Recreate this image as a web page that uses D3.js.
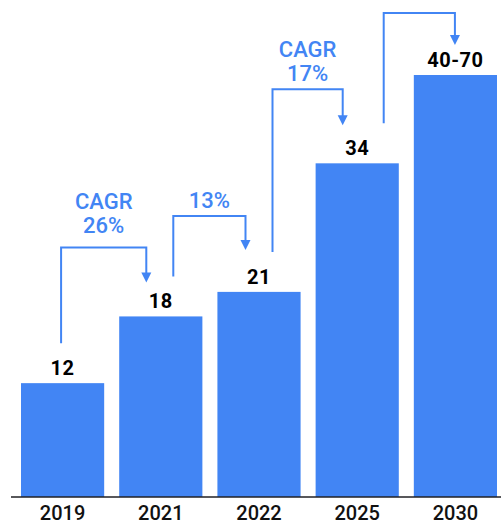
<!DOCTYPE html>
<html>
<head>
<meta charset="utf-8">
<script src="https://cdn.jsdelivr.net/npm/d3@7"></script>
<style>
  html, body { margin: 0; padding: 0; background: #fff; overflow: hidden; }
  text { font-family: Roboto, "Open Sans", sans-serif; }
</style>
</head>
<body>
<div id="chart"></div>
<script>
// Chart data
const years = ["2019", "2021", "2022", "2025", "2030"];
const values = [11.6, 18.4, 20.9, 34, 43];          // bar heights as drawn
const valueLabels = ["12", "18", "21", "34", "40-70"];

// Growth annotations: from bar -> to bar, text lines
const annFrom = [0, 1, 2, 3];
const annTo = [1, 2, 3, 4];
const annText = [["CAGR", "26%"], ["13%"], ["CAGR", "17%"], []];

const width = 501, height = 526;
const blue = "#4285F4";

const svg = d3.select("#chart").append("svg")
    .attr("width", width)
    .attr("height", height);

const baseY = 497;

const x = d3.scaleBand()
    .domain(years)
    .range([21, 497])
    .paddingInner(15 / 98)
    .paddingOuter(0);

const y = d3.scaleLinear()
    .domain([0, 43])
    .range([baseY, 75]);

const cx = i => x(years[i]) + x.bandwidth() / 2;

// Bars
svg.selectAll(".bar")
   .data(values)
 .enter().append("rect")
   .attr("class", "bar")
   .attr("x", (d, i) => x(years[i]))
   .attr("width", x.bandwidth())
   .attr("y", d => y(d))
   .attr("height", d => baseY - y(d))
   .attr("fill", blue);

// Value labels
svg.selectAll(".val")
   .data(values)
 .enter().append("text")
   .attr("class", "val")
   .attr("x", (d, i) => cx(i))
   .attr("y", d => y(d) - 8)
   .attr("text-anchor", "middle")
   .attr("font-size", 20)
   .attr("font-weight", 700)
   .attr("letter-spacing", "0.5px")
   .attr("fill", "#000")
   .text((d, i) => valueLabels[i]);

// x axis (labels only), baseline drawn separately
const xAxis = svg.append("g")
   .attr("transform", `translate(0,${baseY})`)
   .call(d3.axisBottom(x).tickSize(0));
xAxis.select(".domain").remove();
xAxis.selectAll("text")
   .attr("y", 23)
   .attr("dy", 0)
   .attr("font-family", "Roboto, sans-serif")
   .attr("font-size", 20)
   .attr("font-weight", 500)
   .attr("fill", "#111");

svg.append("line")
   .attr("x1", 11).attr("x2", width)
   .attr("y1", baseY).attr("y2", baseY)
   .attr("stroke", "#202124")
   .attr("stroke-width", 1.6);

// Annotation layout tweaks (pixel offsets)
const dxL = [-1.5, 12.5, 13.5, 26.5];
const dxR = [-14.5, -13.5, -14.5, -0.5];
const tipGap = [34, 42, 38, 30];
const rise = [35, 34, 36, 32];
const textGap = [14, 8, 8, 8];

annFrom.forEach((f, k) => {
    const t = annTo[k];
    const xl = cx(f) + dxL[k];
    const xr = cx(t) + dxR[k];
    const bottom = y(values[f]) - 40;
    const tip = y(values[t]) - tipGap[k];
    const top = tip - rise[k];
    const ah = 10, aw = 5;

    svg.append("path")
       .attr("d", `M${xl},${bottom}V${top}H${xr}V${tip - ah + 1}`)
       .attr("fill", "none")
       .attr("stroke", blue)
       .attr("stroke-width", 2);

    svg.append("path")
       .attr("d", `M${xr - aw},${tip - ah}L${xr + aw},${tip - ah}L${xr},${tip}Z`)
       .attr("fill", blue);

    const lines = annText[k];
    lines.forEach((s, j) => {
        svg.append("text")
           .attr("x", (xl + xr) / 2)
           .attr("y", top - textGap[k] - (lines.length - 1 - j) * 24)
           .attr("text-anchor", "middle")
           .attr("font-size", 22)
           .attr("font-weight", 500)
           .attr("fill", blue)
           .text(s);
    });
});
</script>
</body>
</html>
